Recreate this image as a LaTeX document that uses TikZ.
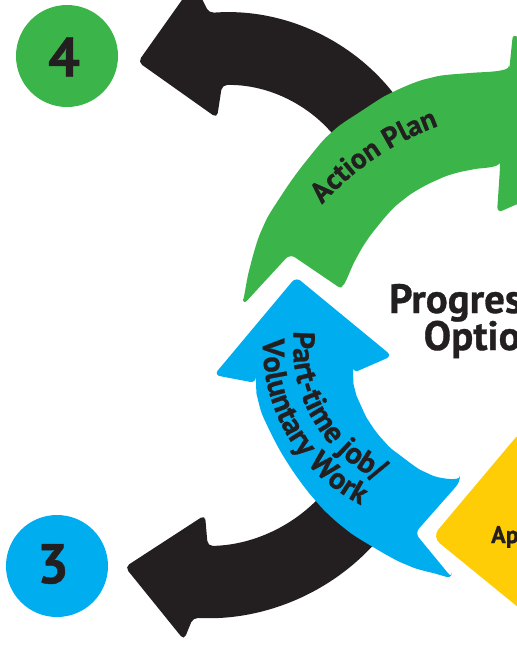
\documentclass[tikz,border=0pt]{standalone}
\usepackage{fontspec}
\setmainfont{PT Sans}[BoldFeatures={FakeBold=0.8}]
\usetikzlibrary{decorations.text}
\definecolor{cgreen}{HTML}{3BB54A}
\definecolor{cblue}{HTML}{00AEEF}
\definecolor{cyellow}{HTML}{FFCD05}
\definecolor{cblack}{HTML}{231F20}
\newcommand\arcfontA{\bfseries\fontsize{29}{29}\selectfont\color{cblack}}
\newcommand\arcfontB{\bfseries\fontsize{30.5}{30.5}\selectfont\color{cblack}}
\begin{document}
\begin{tikzpicture}[x=1pt,y=-1pt,
  numcircle/.style={circle, inner sep=0pt, minimum size=102pt},
  digit/.style={font=\bfseries\fontsize{56}{56}\selectfont, text=cblack, inner sep=0pt},
  title/.style={font=\bfseries\fontsize{41}{41}\selectfont, text=cblack, inner sep=0pt, anchor=base},
  arclabelA/.style={decorate, decoration={text along path, text align=center, text={|\arcfontA|#1}}},
  arclabelB/.style={decorate, decoration={text along path, text align=center, text={|\arcfontB|#1}}}
]
\useasboundingbox (0,0) rectangle (517,646);
\clip (0,0) rectangle (517,646);

% black arrows (behind)
\fill[cblack, rounded corners=5pt] (225,226) ++(-25:141) arc[start angle=-25, end angle=-91.2, radius=141]
  -- (217,118) -- (138,62) -- (194,-17) -- (209,13)
  arc[start angle=-94.3, end angle=-25, radius=214] -- cycle;
\fill[cblack, rounded corners=5pt] (205,389) ++(32:157) arc[start angle=32, end angle=89, radius=157]
  -- (205,515) -- (125,567) -- (184,640) -- (193,617.7)
  arc[start angle=93, end angle=32, radius=229] -- cycle;

% green arrow
\fill[cgreen, rounded corners=6pt]
  plot[smooth, tension=0.6] coordinates {(243,305) (250,267) (263,227) (283,193) (307,160) (332,132) (363,110) (393,92) (430,78) (470,73) (509,72)}
  -- (513,33) -- (640,150) -- (497,213)
  -- plot[smooth, tension=0.6] coordinates {(500,168) (470,170) (437,180) (403,200) (377,227) (357,257) (343,290)}
  -- (290,254) -- cycle;

% blue arrow
\fill[cblue, rounded corners=6pt]
  (256,383) -- (214,375) -- (296,277) -- (392,356) -- (353,373)
  -- plot[smooth, tension=0.6] coordinates {(353,373) (355,390) (362,408) (370,423) (383,440) (397,453) (427,473) (460,482)}
  -- (415,533)
  -- plot[smooth, tension=0.6] coordinates {(452,578) (440,575) (407,565) (373,547) (343,527) (315,500) (287,462) (266,423) (258,400) (256,383)}
  -- cycle;

% yellow diamond
\fill[cyellow, rounded corners=10pt] (432,537) -- (522,430) -- (630,518) -- (540,625) -- cycle;

% number circles
\node[numcircle, fill=cgreen] (c4) at (67,56) {};
\node[digit] (d4) at (64,57) {4};
\node[numcircle, fill=cblue] (c3) at (57,566) {};
\node[digit] (d3) at (53,564) {3};

% arc labels
\path[arclabelA={Action Plan}] (536,396) ++(-148:287) arc[start angle=-148, end angle=-100, radius=287];
\path[arclabelB={Part-time job/}] (441,346) ++(-155:148) arc[start angle=-155, end angle=-265, radius=148];
\path[arclabelB={Voluntary Work}] (441,346) ++(-157:178) arc[start angle=-157, end angle=-264, radius=178];

% centre texts
\node[title] (prog) at (492,313) {Progression};
\node[title] (opt) at (492,350) {Options};
\node[font=\bfseries\fontsize{24}{24}\selectfont, text=cblack, inner sep=0pt, anchor=base west] (ap) at (491,543) {Ap};
\end{tikzpicture}
\end{document}
